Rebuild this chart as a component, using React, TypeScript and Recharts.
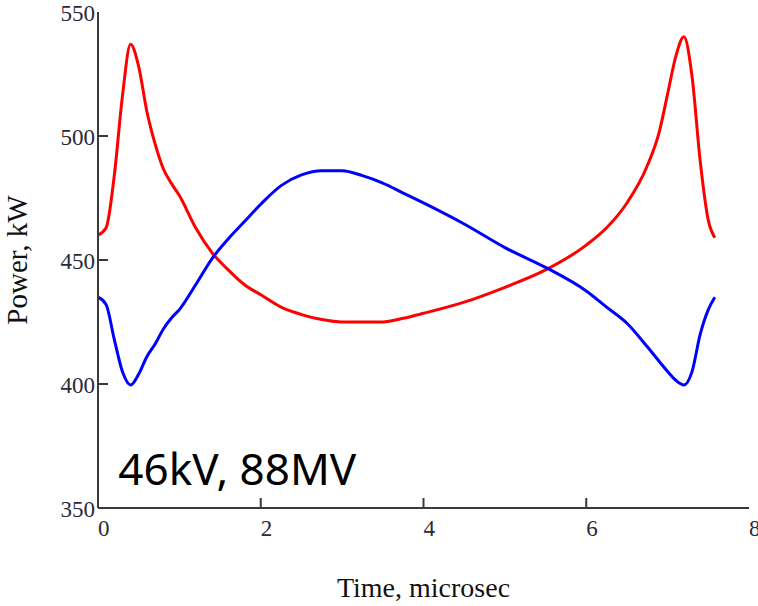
import * as React from "react";
import { LineChart, Line, XAxis, YAxis, ReferenceDot } from "recharts";

// time, microsec
const times = [
    0, 0.1, 0.2, 0.3, 0.4, 0.5, 0.6, 0.7, 0.8, 0.9, 1.0, 1.2, 1.4, 1.6, 1.8,
    2.0, 2.25, 2.5, 2.75, 3.0, 3.25, 3.5, 3.75, 4.0, 4.5, 5.0, 5.5, 6.0, 6.25,
    6.5, 6.75, 6.9, 7.0, 7.1, 7.2, 7.3, 7.4, 7.5, 7.58,
];
// power, kW (red trace)
const redPower = [
    460, 463, 484, 516, 537, 528, 510, 497, 487, 481, 476, 463, 453, 446, 440,
    436, 431, 428, 426, 425, 425, 425, 426.5, 428.5, 433, 439, 446, 456, 463,
    473, 488, 502, 517, 532, 540, 524, 490, 466, 459,
];
// power, kW (blue trace)
const bluePower = [
    435, 432, 418, 405, 399.6, 404, 411, 416, 422, 426.5, 430, 440, 450.5, 458.5,
    465.5, 472.5, 480, 484.3, 486, 486, 484, 481, 477, 473, 464.5, 455, 447,
    437.5, 431, 424.5, 415, 409, 405, 401.5, 399.6, 405, 420, 430, 435,
];
const xTicks = [0, 2, 4, 6, 8];
const yTicks = [350, 400, 450, 500, 550];
const note = "46kV, 88MV";

const data = times.map((t, i) => ({ t, red: redPower[i], blue: bluePower[i] }));

const AXIS = "#3a3a3a";
const SERIF = "'Liberation Serif', 'Times New Roman', serif";
const TICK_LEN = 10;

const BottomTick = ({ x, y, payload }: any) => (
    <g>
        {payload.value > 0 && payload.value < 8 && (
            <line x1={x} y1={y} x2={x} y2={y - TICK_LEN} stroke={AXIS} strokeWidth={2} />
        )}
        <text x={x} y={y + 28} fontFamily={SERIF} fontSize={23} fill="#2a2a3a" textAnchor="start">
            {payload.value}
        </text>
    </g>
);

const TopTick = ({ x, y, payload }: any) =>
    payload.value > 0 && payload.value < 8 ? (
        <line x1={x} y1={y} x2={x} y2={y + TICK_LEN} stroke={AXIS} strokeWidth={2} />
    ) : (
        <g />
    );

const LeftTick = ({ x, y, payload }: any) => (
    <g>
        {payload.value > 350 && payload.value < 550 && (
            <line x1={x} y1={y} x2={x + TICK_LEN} y2={y} stroke={AXIS} strokeWidth={2} />
        )}
        <text x={x - 3} y={y + 9} fontFamily={SERIF} fontSize={23} fill="#2a2a3a" textAnchor="end">
            {payload.value}
        </text>
    </g>
);

const RightTick = ({ x, y, payload }: any) =>
    payload.value > 350 && payload.value < 550 ? (
        <line x1={x} y1={y} x2={x - TICK_LEN} y2={y} stroke={AXIS} strokeWidth={2} />
    ) : (
        <g />
    );

export default function App() {
    return (
        <div style={{ position: "absolute", left: 0, top: 0 }}>
            <LineChart
                width={758}
                height={606}
                data={data}
                margin={{ top: 12, right: 9, bottom: 0, left: 0 }}
            >
                <XAxis
                    xAxisId="b"
                    dataKey="t"
                    type="number"
                    domain={[0, 8]}
                    ticks={xTicks}
                    interval={0}
                    height={98}
                    tickSize={0}
                    tickMargin={0}
                    axisLine={{ stroke: AXIS, strokeWidth: 2 }}
                    tickLine={false}
                    tick={BottomTick}
                    label={{
                        content: ({ viewBox }: any) => (
                            <text
                                x={viewBox.x + viewBox.width / 2}
                                y={viewBox.y + 89}
                                fontFamily={SERIF}
                                fontSize={28}
                                fill="#111"
                                textAnchor="middle"
                            >
                                Time, microsec
                            </text>
                        ),
                    }}
                />
                <XAxis
                    xAxisId="t"
                    orientation="top"
                    type="number"
                    domain={[0, 8]}
                    ticks={xTicks}
                    interval={0}
                    height={0}
                    tickSize={0}
                    tickMargin={0}
                    axisLine={{ stroke: AXIS, strokeWidth: 2 }}
                    tickLine={false}
                    tick={TopTick}
                />
                <YAxis
                    yAxisId="l"
                    type="number"
                    domain={[350, 550]}
                    ticks={yTicks}
                    interval={0}
                    width={98}
                    tickSize={0}
                    tickMargin={0}
                    axisLine={{ stroke: AXIS, strokeWidth: 2 }}
                    tickLine={false}
                    tick={LeftTick}
                    label={{
                        content: ({ viewBox }: any) => {
                            const cx = viewBox.x + 17;
                            const cy = viewBox.y + viewBox.height / 2;
                            return (
                                <text
                                    x={cx}
                                    y={cy}
                                    transform={`rotate(-90 ${cx} ${cy})`}
                                    fontFamily={SERIF}
                                    fontSize={29}
                                    fill="#111"
                                    textAnchor="middle"
                                    dominantBaseline="central"
                                >
                                    Power, kW
                                </text>
                            );
                        },
                    }}
                />
                <YAxis
                    yAxisId="r"
                    orientation="right"
                    type="number"
                    domain={[350, 550]}
                    ticks={yTicks}
                    interval={0}
                    width={0}
                    tickSize={0}
                    tickMargin={0}
                    axisLine={{ stroke: AXIS, strokeWidth: 2 }}
                    tickLine={false}
                    tick={RightTick}
                />
                <Line
                    xAxisId="b"
                    yAxisId="l"
                    type="monotone"
                    dataKey="red"
                    stroke="#ff0000"
                    strokeWidth={3}
                    dot={false}
                    isAnimationActive={false}
                />
                <Line
                    xAxisId="b"
                    yAxisId="l"
                    type="monotone"
                    dataKey="blue"
                    stroke="#0000ff"
                    strokeWidth={3}
                    dot={false}
                    isAnimationActive={false}
                />
                <ReferenceDot
                    xAxisId="b"
                    yAxisId="l"
                    x={0.25}
                    y={359.3}
                    r={0}
                    fill="none"
                    stroke="none"
                    label={{
                        content: ({ viewBox }: any) => (
                            <text
                                x={viewBox.x}
                                y={viewBox.y}
                                fontFamily="'Noto Sans', sans-serif"
                                fontSize={44}
                                fill="#000"
                                textAnchor="start"
                            >
                                {note}
                            </text>
                        ),
                    }}
                />
            </LineChart>
        </div>
    );
}
